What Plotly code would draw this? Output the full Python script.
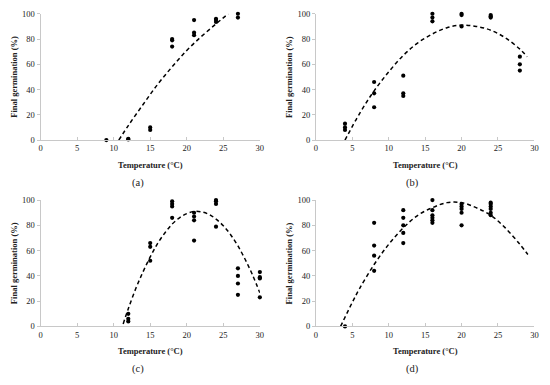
import plotly.graph_objects as go

# ---- data ----
a_temp = [9, 12, 12, 15, 15, 18, 18, 18, 21, 21, 21, 24, 24, 24, 27, 27]
a_germ = [0, 0.5, 1, 10, 8, 80, 79, 74, 95, 85, 83, 96, 95, 93.5, 100, 97]
a_fit_t = [10.7, 12, 14, 16, 18, 20, 22, 24, 25.7]
a_fit_g = [0, 11.5, 28, 44, 58, 71, 82, 92, 100]

b_temp = [4, 4, 4, 8, 8, 8, 12, 12, 12, 16, 16, 16, 20, 20, 20, 24, 24, 24, 28, 28, 28]
b_germ = [13, 10, 8, 46, 37, 26, 51, 37, 35, 100, 97, 94, 100, 99, 90, 99, 98, 97, 66, 60, 55]
b_fit_t = [4, 6, 8, 10, 12, 14, 16, 18, 20, 22, 24, 26, 28, 29]
b_fit_g = [0, 21, 39, 54, 67, 77, 84, 89, 91, 90, 87, 81, 72, 66]

c_temp = [12, 12, 12, 15, 15, 15, 18, 18, 18, 18, 21, 21, 21, 21, 24, 24, 24, 24,
          27, 27, 27, 27, 30, 30, 30, 30]
c_germ = [10, 6, 4, 66, 63, 52, 99, 97, 95, 86, 90, 87, 84, 68, 100, 99, 97, 79,
          46, 40, 34, 25, 43, 39, 38, 23]
c_fit_t = [11.3, 12, 13, 14, 15, 16, 17, 18, 19, 20, 21, 22, 23, 24, 25, 26, 27, 28, 29, 30]
c_fit_g = [2, 14, 29.6, 43, 55, 65.6, 74, 81, 86, 89.3, 91, 90.7, 88.8, 85, 79.7,
           72.6, 63.7, 53, 40.7, 26.6]

d_temp = [4, 8, 8, 8, 8, 12, 12, 12, 12, 12, 16, 16, 16, 16, 16, 16,
          20, 20, 20, 20, 20, 24, 24, 24, 24, 24, 24]
d_germ = [0, 82, 64, 56, 44, 92, 86, 80, 74, 66, 100, 92, 88, 86, 84, 82,
          97, 95, 93, 90, 80, 98, 97, 95, 93, 90, 88]
d_fit_t = [3.4, 5, 6, 8, 10, 12, 14, 16, 18, 20, 22, 24, 26, 28, 29.1]
d_fit_g = [0, 19, 30, 49, 65, 78, 88, 94, 98, 98, 94, 88, 78, 65, 57]

x_ticks = [0, 5, 10, 15, 20, 25, 30]
y_ticks = [0, 20, 40, 60, 80, 100]
captions = ["(a)", "(b)", "(c)", "(d)"]
x_title = "Temperature (°C)"
y_title = "Final germination (%)"

W, H = 550, 385
FONT = "'Liberation Serif', 'Times New Roman', Times, serif"

panels = [
    (a_temp, a_germ, a_fit_t, a_fit_g, (39, 260.7), (9, 138.7)),
    (b_temp, b_germ, b_fit_t, b_fit_g, (317.3, 538.3), (9, 138.7)),
    (c_temp, c_germ, c_fit_t, c_fit_g, (39, 260.7), (200.3, 330)),
    (d_temp, d_germ, d_fit_t, d_fit_g, (317.3, 538.3), (200.3, 330)),
]

fig = go.Figure()
annotations = []
for i, (t, g, ft, fg, (x0, x1), (y0, y1)) in enumerate(panels):
    n = "" if i == 0 else str(i + 1)
    xa, ya = "x" + n, "y" + n
    fig.add_trace(go.Scatter(x=ft, y=fg, mode="lines", xaxis=xa, yaxis=ya,
                             line=dict(color="black", width=1.5, dash="4px,3px", shape="spline"),
                             showlegend=False, hoverinfo="skip", cliponaxis=False))
    fig.add_trace(go.Scatter(x=t, y=g, mode="markers", xaxis=xa, yaxis=ya,
                             marker=dict(color="black", size=4.2),
                             showlegend=False, cliponaxis=False))
    axcommon = dict(showgrid=False, zeroline=False, showline=True, linecolor="#c8c8c8",
                    linewidth=1, tickfont=dict(family=FONT, size=8.5, color="#222"),
                    ticklen=3, tickcolor="#c8c8c8", fixedrange=True)
    fig.layout["xaxis" + n] = dict(domain=[x0 / W, x1 / W], range=[0, 30], tickvals=x_ticks,
                                   ticks="inside", anchor=ya, **axcommon)
    fig.layout["yaxis" + n] = dict(domain=[1 - y1 / H, 1 - y0 / H], range=[0, 100], tickvals=y_ticks,
                                   ticks="outside", anchor=xa, **axcommon)
    cx = (x0 + x1) / 2
    annotations.append(dict(text="<b>" + x_title + "</b>", x=cx / W, y=1 - (y1 + 25.5) / H,
                            xref="paper", yref="paper", showarrow=False,
                            xanchor="center", yanchor="middle",
                            font=dict(family=FONT, size=8.5, color="#222")))
    annotations.append(dict(text="<b>" + y_title + "</b>", x=(x0 - 27) / W, y=1 - ((y0 + y1) / 2) / H,
                            xref="paper", yref="paper", showarrow=False, textangle=-90,
                            xanchor="center", yanchor="middle",
                            font=dict(family=FONT, size=8.5, color="#222")))
    annotations.append(dict(text=captions[i], x=(cx - 12.5) / W, y=1 - (y1 + 44) / H,
                            xref="paper", yref="paper", showarrow=False,
                            xanchor="center", yanchor="middle",
                            font=dict(family=FONT, size=10.5, color="#222")))

fig.update_layout(width=W, height=H, margin=dict(l=0, r=0, t=0, b=0),
                  paper_bgcolor="white", plot_bgcolor="white",
                  annotations=annotations)
fig.write_html("out.html", config={"displayModeBar": False},
               post_script="document.body.style.margin='0';")
